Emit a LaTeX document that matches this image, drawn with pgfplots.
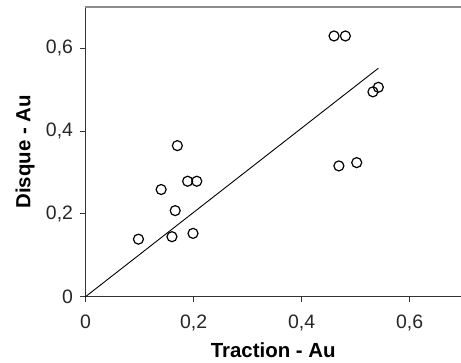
\documentclass[border=0pt]{standalone}
\usepackage{fontspec}
\setmainfont{Liberation Sans}
\usepackage{pgfplots}
\pgfplotsset{compat=1.18}
\begin{document}
\begin{tikzpicture}
\path[use as bounding box] (-85.5bp,-66.3bp) rectangle (375.5bp,296.7bp);
\begin{axis}[
  at={(0,0)}, anchor=south west,
  scale only axis,
  width=375.5bp, height=289.7bp,
  xmin=0, xmax=0.695, ymin=0, ymax=0.7,
  axis x line*=bottom, axis y line*=left,
  axis line style={draw=black!80, line width=1.1bp},
  xtick={0,0.2,0.4,0.6}, ytick={0,0.2,0.4,0.6},
  tick align=outside, major tick length=5bp,
  tick style={draw=black!80, line width=0.9bp},
  /pgf/number format/assume math mode=true,
  /pgf/number format/use comma,
  /pgf/number format/fixed,
  tick label style={font=\fontsize{19.5}{22}\selectfont, text=black!85},
  xticklabel style={yshift=-10bp},
  yticklabel style={xshift=-4bp},
  xlabel={Traction - Au}, ylabel={Disque - Au},
  xlabel style={font=\bfseries\fontsize{20.5}{24}\selectfont, at={(axis description cs:0.5,0)}, anchor=center, yshift=-53.5bp},
  ylabel style={font=\bfseries\fontsize{20.5}{24}\selectfont, at={(axis description cs:0,0.5)}, anchor=center, yshift=60.5bp},
  clip=false,
]
\draw[draw=black!45, line width=1.1bp] (rel axis cs:0,1) -- (rel axis cs:1,1);
\addplot[black, line width=0.9bp, no marks] coordinates {(0,0) (0.542,0.552)};
\addplot[only marks, mark=o, mark size=5bp, mark options={draw=black, line width=1.2bp, fill=white}] coordinates {
(0.098,0.139)
(0.140,0.259)
(0.166,0.208)
(0.160,0.145)
(0.199,0.153)
(0.189,0.279)
(0.206,0.279)
(0.170,0.365)
(0.460,0.630)
(0.481,0.630)
(0.532,0.495)
(0.542,0.506)
(0.469,0.316)
(0.502,0.324)
};
\end{axis}
\end{tikzpicture}
\end{document}
